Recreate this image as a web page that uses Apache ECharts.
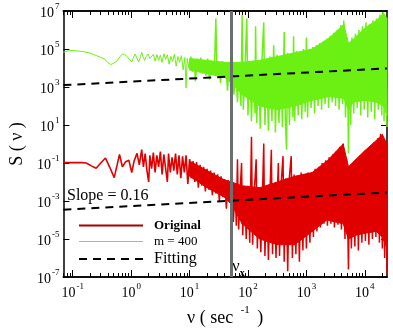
<!DOCTYPE html>
<html lang="en">
<head>
  <meta charset="UTF-8">
  <title>S(v) spectrum</title>
  <script src="https://cdn.jsdelivr.net/npm/echarts@6/dist/echarts.min.js"></script>
</head>
<body style="margin:0">
  <div id="main" style="width:393px;height:332px;"></div>
  <script type="text/javascript">
    // everything is in log10 units: x = log10(v / sec^-1), y = log10 S(v)
    var xTicks = [-1, 0, 1, 2, 3, 4];
    var yTicks = [-7, -5, -3, -1, 1, 3, 5, 7];
    var nuX = 1.72; // v_x, the grey vertical line

    // dashed fits, slope = 0.16
    var fitHigh = [[-1.16, 3.1], [4.38, 3.98]];
    var fitLow = [[-1.16, -3.46], [4.38, -2.55]];

    // m = 400 (green)
    var greenPts = [
      [-1.16,4.83],[-1.08,4.9],[-1.0,4.92],[-0.92,4.9],[-0.82,4.86],[-0.7,4.78],[-0.6,4.66],[-0.52,4.56],
      [-0.46,4.47],[-0.4,4.3],[-0.35,4.18],[-0.3,4.25],[-0.24,4.38],[-0.19,4.6],[-0.15,4.74],[-0.11,4.7],
      [-0.07,4.6],[-0.03,4.45],[0.01,4.32],[0.04,4.55],[0.07,4.74],[0.1,4.5],[0.13,4.32],[0.16,4.6],
      [0.18,4.83],[0.21,4.55],[0.23,4.4],[0.26,4.62],[0.29,4.74],[0.32,4.5],[0.35,4.4],
      [0.38,4.72],[0.41,4.35],[0.44,4.7],[0.47,4.4],[0.5,4.68],[0.53,4.3],[0.56,4.75],[0.59,4.45],
      [0.62,4.7],[0.65,4.2],[0.68,4.62],[0.71,4.35],[0.74,4.72],[0.77,4.1],[0.8,4.6],[0.83,4.3],
      [0.86,4.65],[0.89,3.9],[0.92,4.55],[0.94,2.95],[0.96,4.5],[0.99,4.0],[1.02,4.6],[1.05,3.8],
      [1.08,4.45],[1.1,3.3],[1.13,4.5],[1.16,3.9],[1.19,4.55],[1.22,3.7],[1.25,4.4],[1.28,3.6],
      [1.31,4.5],[1.34,3.4],[1.37,4.35],[1.4,3.8],[1.43,4.4],[1.45,6.6],[1.47,3.6],[1.5,4.3],
      [1.53,3.2],[1.56,4.35],[1.59,3.5],[1.62,4.2],[1.65,2.8],[1.68,4.3],[1.7,3.3],[1.73,4.1],
      [1.76,2.6],[1.79,4.2],[1.82,2.2],[1.85,4.3],[1.88,2.0],[1.9,6.8],[1.92,1.8],[1.95,4.1],
      [1.98,6.6],[2.0,1.5],[2.03,4.2],[2.06,1.2],[2.09,4.4],[2.12,1.6],[2.13,6.2],[2.15,1.1],
      [2.18,4.3],[2.21,0.8],[2.24,4.5],[2.27,6.4],[2.29,1.0],[2.32,4.4],[2.35,0.7],[2.38,4.6],
      [2.41,1.2],[2.44,5.2],[2.47,0.6],[2.5,4.7],[2.53,1.1],[2.56,4.6],[2.59,0.9],[2.62,5.9],
      [2.64,1.3],[2.66,-0.3],[2.68,4.8],[2.71,1.0],[2.74,4.7],[2.77,1.4],[2.78,5.67],[2.8,1.2],
      [2.83,4.9],[2.86,1.5],[2.89,4.8],[2.92,1.3],[2.95,5.0],[2.98,1.7],[3.0,5.6],[3.02,1.4],
      [3.05,5.0],[3.08,1.9],[3.11,5.1],[3.14,1.6],[3.17,5.2],[3.2,2.0],[3.23,5.3],[3.26,1.8],
      [3.29,5.4],[3.32,2.1],[3.35,5.55],[3.38,1.9],[3.41,5.7],[3.44,2.2],[3.47,5.85],[3.5,2.0],
      [3.53,6.0],[3.56,1.8],[3.59,6.25],[3.62,2.1],[3.64,6.5],[3.67,1.4],[3.7,5.6],[3.72,-0.5],
      [3.74,5.3],[3.76,1.0],[3.78,5.6],[3.81,1.6],[3.84,5.8],[3.87,1.9],[3.9,6.0],[3.93,1.5],
      [3.96,6.2],[3.99,1.8],[4.02,6.4],[4.05,1.4],[4.08,6.3],[4.11,1.7],[4.14,6.5],[4.17,1.3],
      [4.2,6.6],[4.23,1.8],[4.26,6.8],[4.29,1.5],[4.31,6.95],[4.33,1.2],[4.35,6.7],[4.38,0.9]
    ];
    // solid core of the green noise: [x, low, high]
    var greenCore = [
      [1.0,3.9,4.5],[1.3,3.7,4.4],[1.6,3.5,4.3],[1.72,3.2,4.3],[1.9,2.6,4.3],[2.2,2.0,4.4],
      [2.5,1.8,4.6],[2.8,2.0,4.8],[3.1,2.3,5.0],[3.4,2.5,5.6],[3.64,2.4,6.3],[3.72,1.8,5.3],
      [3.8,2.2,5.5],[4.0,2.3,6.1],[4.2,2.2,6.5],[4.32,2.0,6.9],[4.38,1.5,6.6]
    ];

    // Original (red)
    var redPts = [
      [-1.16,-0.98],[-1.0,-0.98],[-0.85,-0.98],[-0.77,-1.0],[-0.68,-1.15],[-0.6,-1.28],[-0.52,-1.0],
      [-0.44,-0.74],[-0.37,-1.2],[-0.29,-1.77],[-0.24,-1.1],[-0.2,-0.55],[-0.15,-1.2],[-0.1,-0.95],
      [-0.04,-0.85],[0.01,-1.5],[0.05,-0.9],[0.1,-0.49],[0.14,-1.1],[0.18,-0.3],
      [0.21,-1.2],[0.24,-0.5],[0.27,-1.4],[0.3,-2.0],[0.32,-0.6],[0.35,-1.3],[0.38,-0.45],[0.41,-1.5],
      [0.44,-0.6],[0.47,-1.2],[0.5,-0.4],[0.53,-1.6],[0.56,-0.55],[0.59,-1.3],[0.62,-2.0],[0.64,-0.5],
      [0.67,-1.5],[0.7,-0.7],[0.73,-1.4],[0.76,-0.5],[0.79,-1.6],[0.82,-0.6],[0.85,-1.8],[0.88,-0.65],
      [0.91,-1.5],[0.94,-0.6],[0.97,-2.1],[1.0,-0.8],[1.03,-1.8],[1.06,-0.9],[1.09,-2.0],[1.12,-0.95],
      [1.15,-2.3],[1.18,-1.1],[1.21,-2.2],[1.24,-1.2],[1.27,-2.5],[1.3,-1.3],[1.33,-2.4],[1.36,-1.4],
      [1.39,-2.7],[1.42,-1.5],[1.45,-2.6],[1.48,-1.6],[1.51,-3.0],[1.54,-1.7],[1.57,-2.8],[1.6,-1.85],
      [1.63,-3.4],[1.66,-1.9],[1.69,-3.0],[1.72,-2.0],[1.75,-4.1],[1.78,-2.1],[1.8,-4.3],[1.82,-0.8],
      [1.84,-4.5],[1.87,-2.2],[1.89,-1.0],[1.91,-4.8],[1.94,-2.3],[1.97,-5.0],[2.0,-2.2],[2.03,-5.2],
      [2.06,0.38],[2.08,-5.3],[2.11,-2.4],[2.14,-0.8],[2.16,-5.5],[2.19,-2.3],[2.22,-5.7],[2.25,-2.4],
      [2.27,0.03],[2.29,-5.9],[2.32,-2.3],[2.35,-6.1],[2.38,-2.2],[2.4,-0.3],[2.42,-5.8],[2.45,-2.1],
      [2.48,-6.0],[2.51,-1.9],[2.52,-1.0],[2.54,-5.9],[2.57,-2.0],[2.6,-0.64],[2.62,-6.2],[2.65,-1.8],
      [2.68,-6.7],[2.71,-1.7],[2.74,-0.64],[2.76,-6.0],[2.79,-1.6],[2.82,-5.8],[2.85,-1.7],[2.88,-6.2],
      [2.91,-1.5],[2.94,-5.6],[2.97,-1.6],[3.0,-5.5],[3.03,-1.5],[3.06,-5.2],[3.09,-1.6],[3.12,-4.9],
      [3.15,-1.3],[3.18,-4.6],[3.21,-1.2],[3.24,-4.4],[3.27,-1.0],[3.3,-4.2],[3.33,-0.85],[3.36,-4.3],
      [3.39,-0.7],[3.42,-4.2],[3.45,-0.55],[3.48,-4.4],[3.51,-0.4],[3.54,-4.25],[3.57,-0.15],[3.6,-4.5],
      [3.63,0.03],[3.66,-5.0],[3.69,-0.8],[3.72,-6.6],[3.74,-1.26],[3.77,-5.5],[3.8,-1.0],[3.83,-5.4],
      [3.86,-0.8],[3.89,-5.6],[3.92,-0.6],[3.95,-5.2],[3.98,-0.45],[4.01,-5.1],[4.04,-0.3],[4.07,-5.3],
      [4.1,-0.1],[4.13,-5.0],[4.16,0.1],[4.19,-4.9],[4.22,0.3],[4.25,-5.2],[4.27,0.54],[4.3,-5.5],
      [4.32,0.3],[4.34,-6.0],[4.36,-2.0],[4.38,-6.8]
    ];
    // solid core of the red noise: [x, low, high]
    var redCore = [
      [1.0,-1.7,-0.9],[1.3,-2.3,-1.4],[1.6,-2.8,-1.9],[1.72,-3.2,-2.0],[1.9,-4.2,-2.2],[2.2,-5.0,-2.3],
      [2.5,-5.3,-2.0],[2.8,-5.3,-1.7],[3.1,-4.6,-1.5],[3.35,-4.0,-0.9],[3.63,-4.2,0.0],[3.72,-5.0,-1.2],
      [3.85,-4.8,-0.8],[4.0,-4.7,-0.35],[4.2,-4.6,0.2],[4.3,-4.9,0.5],[4.38,-5.5,0.0]
    ];

    var serif = "'Liberation Serif', 'DejaVu Serif', serif";
    var xMin = -1.16, xMax = 4.38;
    var green = '#6cf014', red = '#e00000';

    // minor ticks at 2..9 inside every decade
    var minorTicks = [];
    for (var d = -2; d <= 4; d++) {
      for (var k = 2; k <= 9; k++) {
        var t = d + Math.log10(k);
        if (t > xMin && t < xMax) minorTicks.push(t);
      }
    }

    // split a curve where it turns into dense noise, so that part can be drawn thicker
    function splitAt(pts, x0) {
      var i = pts.findIndex(function (p) { return p[0] >= x0; });
      return [pts.slice(0, i + 1), pts.slice(i)];
    }
    var greenParts = splitAt(greenPts, 1.0);
    var redParts = splitAt(redPts, 1.0);

    function pow10(v) {
      return '{b|10}{s|' + v + '}';
    }
    var powRich = {
      b: { fontFamily: serif, fontSize: 14, color: '#000', lineHeight: 18, verticalAlign: 'bottom' },
      s: { fontFamily: serif, fontSize: 9, color: '#000', lineHeight: 18, verticalAlign: 'top', padding: [0, 0, 0, 1] }
    };
    var frame = { show: true, onZero: false, lineStyle: { color: '#000', width: 1.5 } };

    function xAx(pos, ticks, len, labels) {
      return {
        type: 'value', position: pos, min: xMin, max: xMax,
        axisLine: frame,
        axisTick: { inside: true, length: len, customValues: ticks, lineStyle: { color: '#000', width: 1 } },
        axisLabel: labels ? { customValues: xTicks, formatter: pow10, rich: powRich, margin: 5 } : { show: false },
        splitLine: { show: false }
      };
    }
    function yAx(pos, labels) {
      return {
        type: 'value', position: pos, min: -7, max: 7,
        axisLine: frame,
        axisTick: { inside: true, length: 6, customValues: yTicks, lineStyle: { color: '#000', width: 1 } },
        axisLabel: labels ? { customValues: yTicks, formatter: pow10, rich: powRich, margin: 4 } : { show: false },
        splitLine: { show: false }
      };
    }

    var xAxes = [xAx('bottom', xTicks, 7, true), xAx('top', xTicks, 7, false),
                 xAx('bottom', minorTicks, 4, false), xAx('top', minorTicks, 4, false)];
    xAxes[0].name = '{a|ν ( sec }{s|-1}{a| )}';
    xAxes[0].nameLocation = 'middle';
    xAxes[0].nameGap = 28;
    xAxes[0].nameTextStyle = {
      rich: {
        a: { fontFamily: serif, fontSize: 18, color: '#000', lineHeight: 22, verticalAlign: 'bottom' },
        s: { fontFamily: serif, fontSize: 11, color: '#000', lineHeight: 22, verticalAlign: 'top', padding: [0, 3, 0, 3] }
      }
    };
    var yAxes = [yAx('left', true), yAx('right', false)];
    yAxes[0].name = 'S ( ν )';
    yAxes[0].nameLocation = 'middle';
    yAxes[0].nameGap = 35;
    yAxes[0].nameTextStyle = { fontFamily: serif, fontSize: 18, color: '#000' };

    function curve(name, pts, color, width) {
      return {
        name: name, type: 'line', data: pts, symbol: 'none', sampling: null,
        lineStyle: { color: color, width: width }, itemStyle: { color: color }
      };
    }
    // the dense part of a noisy curve, filled between its low and high rows
    function band(id, core, color) {
      var segs = [];
      for (var i = 0; i + 1 < core.length; i++) {
        segs.push(core[i].concat(core[i + 1]));
      }
      return {
        name: id, type: 'custom', data: segs, silent: true, clip: true,
        encode: { x: [0, 3], y: [1, 2, 4, 5] },
        renderItem: function (params, api) {
          var pts = [
            api.coord([api.value(0), api.value(1)]),
            api.coord([api.value(0), api.value(2)]),
            api.coord([api.value(3), api.value(5)]),
            api.coord([api.value(3), api.value(4)])
          ];
          return {
            type: 'polygon', shape: { points: pts },
            style: { fill: color, stroke: color, lineWidth: 1 }
          };
        }
      };
    }
    var dashed = { color: '#000', width: 2, type: [8, 6] };

    var series = [
      band('greenBand', greenCore, green),
      curve('m = 400', greenParts[0], green, 1),
      curve('m = 400', greenParts[1], green, 1.5),
      band('redBand', redCore, red),
      curve('Original', redParts[0], red, 1.6),
      curve('Original', redParts[1], red, 1.5),
      { name: 'Fitting', type: 'line', data: fitHigh, symbol: 'none', lineStyle: dashed, itemStyle: { color: '#000' } },
      { name: 'Fitting', type: 'line', data: fitLow, symbol: 'none', lineStyle: dashed, itemStyle: { color: '#000' } },
      {
        name: 'vx', type: 'line', data: [], symbol: 'none',
        markLine: {
          silent: true, symbol: 'none', label: { show: false },
          lineStyle: { color: '#6a6f70', width: 3, type: 'solid' },
          data: [{ xAxis: nuX }]
        }
      }
    ];

    var myChart = echarts.init(document.getElementById('main'));
    var option = {
      animation: false,
      grid: { left: 53, right: 6, top: 11, bottom: 48 },
      xAxis: xAxes,
      yAxis: yAxes,
      legend: {
        orient: 'vertical', left: 73, top: 214, itemWidth: 64, itemHeight: 10, itemGap: 3,
        selectedMode: false,
        itemStyle: { opacity: 0 },
        textStyle: { fontFamily: serif, color: '#000', padding: [0, 0, 0, 6] },
        data: [
          { name: 'Original', lineStyle: { color: '#a80000', width: 2 }, textStyle: { fontSize: 13, fontWeight: 'bold' } },
          { name: 'm = 400', lineStyle: { color: green, width: 1 }, textStyle: { fontSize: 13 } },
          { name: 'Fitting', textStyle: { fontSize: 16 } }
        ]
      },
      graphic: [
        { type: 'text', left: 67, top: 188, style: { text: 'Slope = 0.16', font: '16px ' + serif, fill: '#000' } },
        {
          type: 'text', left: 232, top: 258,
          style: {
            text: '{a|ν}{b|x}', fill: '#000',
            rich: {
              a: { fontFamily: serif, fontSize: 17, lineHeight: 20, verticalAlign: 'top' },
              b: { fontFamily: serif, fontSize: 10, lineHeight: 20, verticalAlign: 'bottom', fontWeight: 'bold' }
            }
          }
        }
      ],
      series: series
    };
    myChart.setOption(option);
  </script>
</body>
</html>
